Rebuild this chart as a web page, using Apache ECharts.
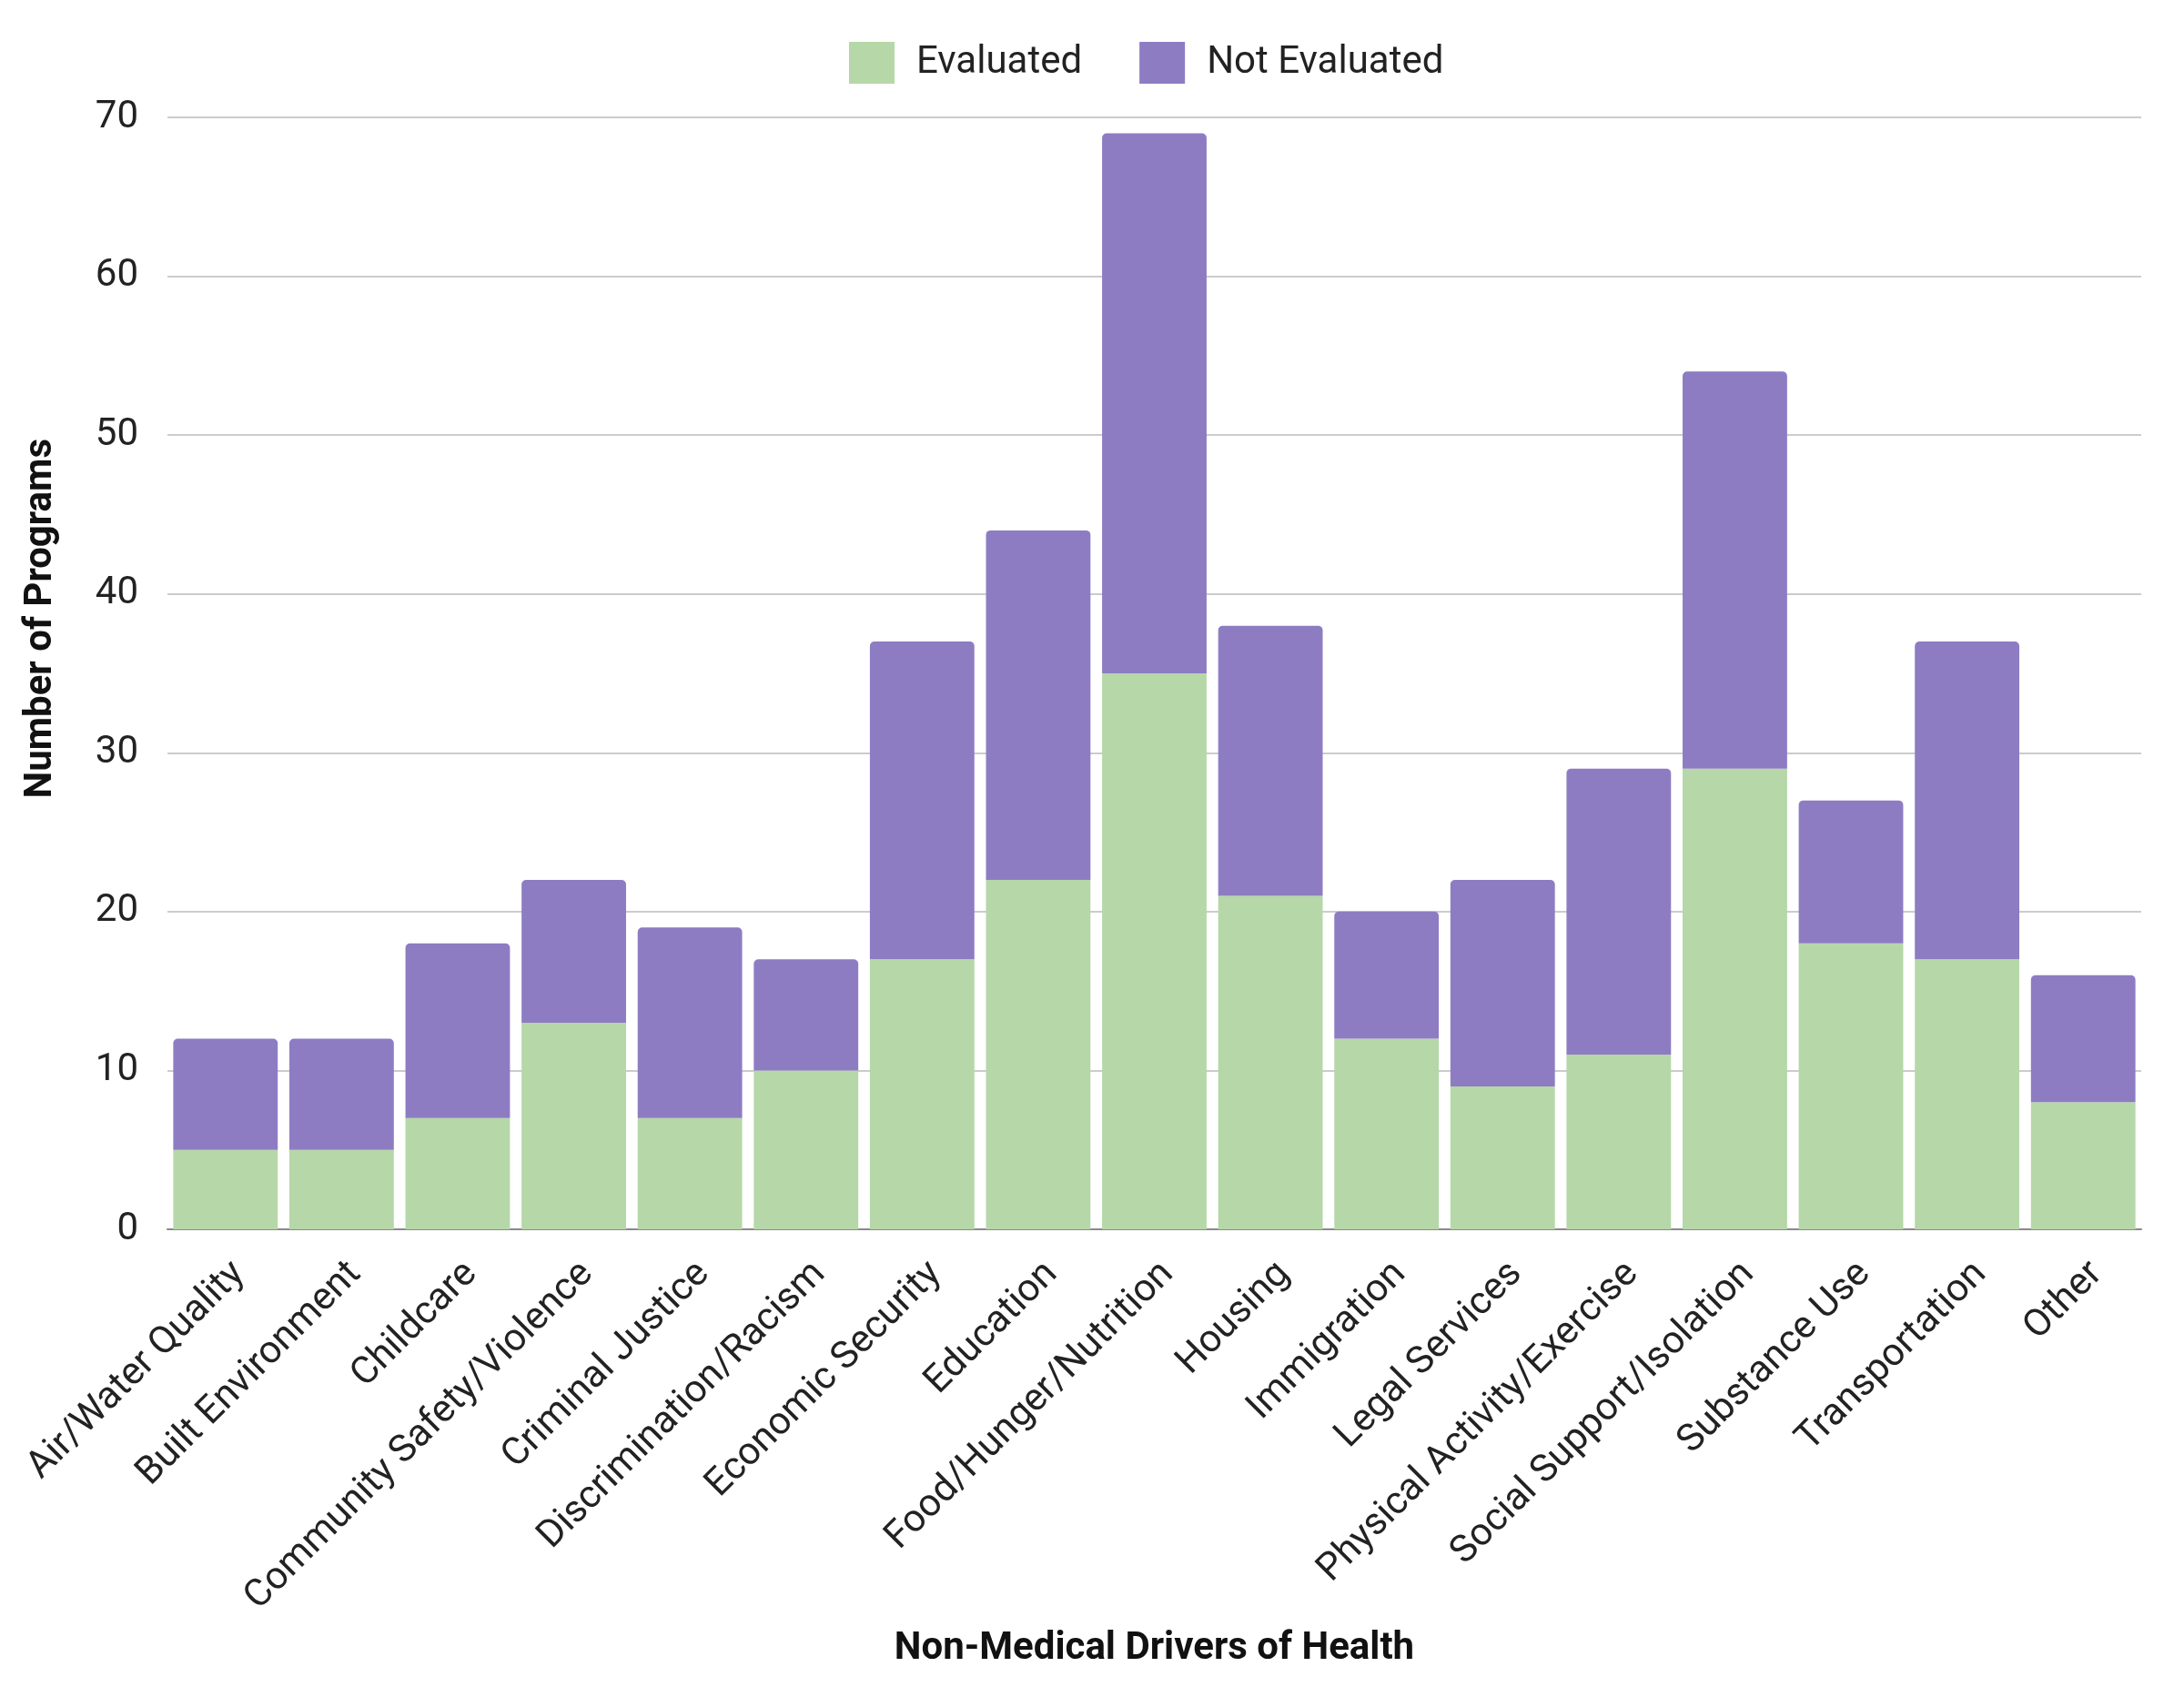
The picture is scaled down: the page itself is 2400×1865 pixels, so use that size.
<!DOCTYPE html>
<html>
<head>
<meta charset="utf-8">
<script src="https://cdn.jsdelivr.net/npm/echarts@6/dist/echarts.min.js"></script>
<style>
html,body{margin:0;padding:0;background:#fff;}
#chart{width:2400px;height:1865px;}
</style>
</head>
<body>
<div id="chart"></div>
<script>
var categories = ["Air/Water Quality","Built Environment","Childcare","Community Safety/Violence","Criminal Justice","Discrimination/Racism","Economic Security","Education","Food/Hunger/Nutrition","Housing","Immigration","Legal Services","Physical Activity/Exercise","Social Support/Isolation","Substance Use","Transportation","Other"];
var evaluated = [5,5,7,13,7,10,17,22,35,21,12,9,11,29,18,17,8];
var notEvaluated = [7,7,11,9,12,7,20,22,34,17,8,13,18,25,9,20,8];
var yTicks = [0,10,20,30,40,50,60,70];

var chart = echarts.init(document.getElementById('chart'), null, {renderer:'canvas'});
var font = 'Roboto';
chart.setOption({
  backgroundColor:'#ffffff',
  animation:false,
  textStyle:{fontFamily:font},
  legend:{
    left:928, top:41,
    itemWidth:50, itemHeight:46, itemGap:63,
    icon:'rect',
    textStyle:{fontSize:42, color:'#222', fontFamily:font, padding:[0,0,0,19]},
    data:['Evaluated','Not Evaluated']
  },
  grid:{left:184, right:47, top:129, bottom:514, containLabel:false},
  xAxis:{
    type:'category',
    data:categories,
    axisTick:{show:false},
    axisLine:{lineStyle:{color:'#8a8a8a', width:2}},
    axisLabel:{rotate:45, fontSize:42, color:'#222', fontFamily:font, margin:28, interval:0, verticalAlign:'top'},
    name:'Non-Medical Drivers of Health',
    nameLocation:'middle',
    nameGap:440,
    nameTextStyle:{fontSize:42, fontWeight:'bold', color:'#111', fontFamily:font}
  },
  yAxis:{
    type:'value',
    min:yTicks[0], max:yTicks[yTicks.length-1], interval:10,
    axisLine:{show:false},
    axisTick:{show:false},
    splitLine:{lineStyle:{color:'#cccccc', width:2}},
    axisLabel:{fontSize:42, color:'#222', fontFamily:font, margin:32}
  },
  graphic:[{
    type:'text',
    left:24, top:482,
    rotation:Math.PI/2,
    style:{text:'Number of Programs', font:'bold 42px Roboto', fill:'#111'}
  }],
  series:[
    {name:'Evaluated', type:'bar', stack:'total', data:evaluated, barCategoryGap:'10%',
     itemStyle:{color:'#b6d7a8'}},
    {name:'Not Evaluated', type:'bar', stack:'total', data:notEvaluated, barCategoryGap:'10%',
     itemStyle:{color:'#8e7cc3', borderRadius:[5,5,0,0]}}
  ]
});
</script>
</body>
</html>
